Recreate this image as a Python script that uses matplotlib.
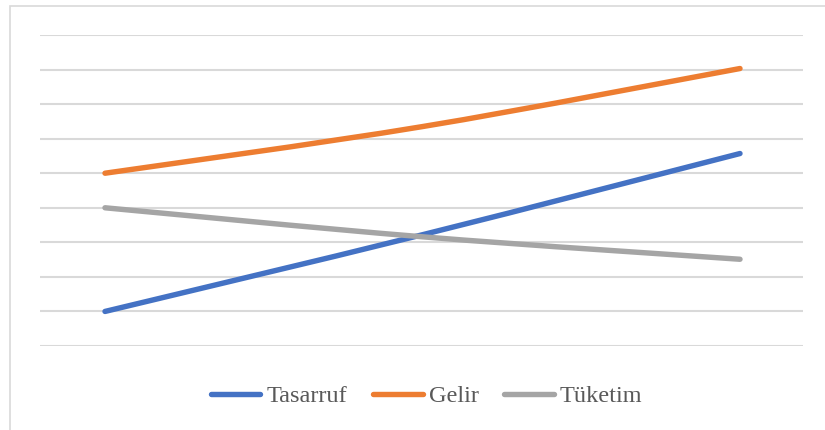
import numpy as np
import matplotlib
matplotlib.use("Agg")
import matplotlib.pyplot as plt
from matplotlib.path import Path
from matplotlib.patches import PathPatch, Rectangle
from matplotlib.lines import Line2D

# --- data (gridline units) ---
points = [0, 1, 2]
tasarruf = [1.0, 3.22, 5.57]
gelir = [5.0, 6.35, 8.03]
tuketim = [4.0, 3.16, 2.51]

series = [
    ("Tasarruf", tasarruf, "#4472C4"),
    ("Gelir", gelir, "#ED7D31"),
    ("Tüketim", tuketim, "#A5A5A5"),
]


def smooth_path(xs, ys):
    # Excel-style smoothed line: cubic bezier through the points
    P = np.column_stack([xs, ys]).astype(float)
    n = len(P)
    verts = [P[0]]
    codes = [Path.MOVETO]
    for i in range(n - 1):
        p0 = P[i - 1] if i > 0 else P[i]
        p1, p2 = P[i], P[i + 1]
        p3 = P[i + 2] if i + 2 < n else P[i + 1]
        verts += [p1 + (p2 - p0) / 6, p2 - (p3 - p1) / 6, p2]
        codes += [Path.CURVE4] * 3
    return Path(verts, codes)


fig = plt.figure(figsize=(8.25, 4.3), dpi=100)
fig.patch.set_facecolor("white")

# chart border (cut off on the right and bottom in the original)
fig.patches.append(Rectangle((10 / 825, -0.05), 1.0, 1 - 6 / 430 + 0.05,
                             transform=fig.transFigure, fill=False,
                             edgecolor="#d9d9d9", lw=1.2))

ax = fig.add_axes([40 / 825, 1 - 346 / 430, 763 / 825, 311 / 430])
ax.set_xlim(-65 / 317.5, 2 + 63 / 317.5)
ax.set_ylim(0, 9)
ax.set_yticks(range(0, 10))
ax.set_xticks([])
ax.tick_params(left=False, labelleft=False)
ax.grid(axis="y", color="#d9d9d9", lw=1.5)
ax.set_axisbelow(True)
for s in ax.spines.values():
    s.set_visible(False)

handles = []
for name, vals, col in series:
    patch = PathPatch(smooth_path(points, vals), fill=False, edgecolor=col,
                      lw=3.9, capstyle="round", joinstyle="round", zorder=3)
    ax.add_patch(patch)
    handles.append(Line2D([], [], color=col, lw=3.9, solid_capstyle="round",
                          label=name))

fig.legend(handles=handles, loc="center", bbox_to_anchor=(0.517, 1 - 396 / 430),
           ncol=3, frameon=False, prop={"family": "Liberation Serif", "size": 17.5},
           labelcolor="#595959", handlelength=2.05, handletextpad=0.25,
           columnspacing=1.05)

fig.savefig("out.png", dpi=100)
